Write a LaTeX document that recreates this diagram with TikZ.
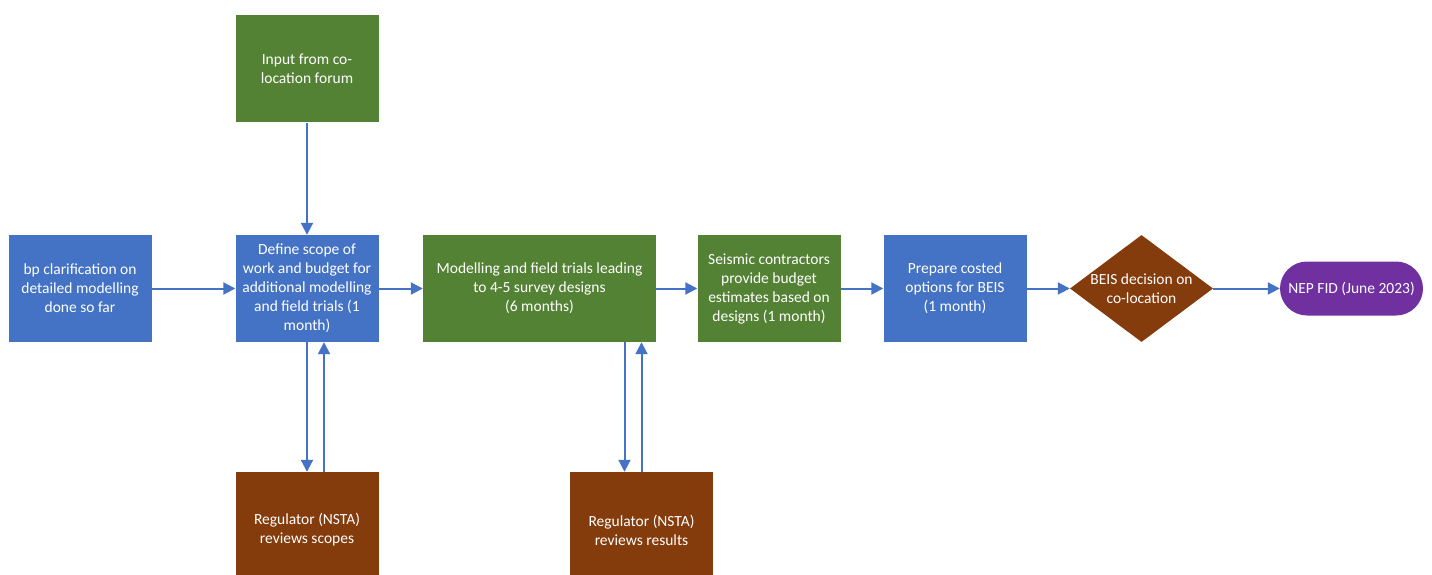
\documentclass[tikz,border=0pt]{standalone}
\usepackage{fontspec}
\setmainfont{Carlito}
\usetikzlibrary{arrows.meta,shapes.geometric}
\definecolor{stepblue}{HTML}{4472C4}
\definecolor{stepgreen}{HTML}{548235}
\definecolor{stepbrown}{HTML}{843C0C}
\definecolor{steppurple}{HTML}{7030A0}
\begin{document}
\begin{tikzpicture} [x=1pt, y=-1pt,
    every node/.style = {text=white, align=center, inner sep=0pt,
        font=\fontsize{15.5}{19}\selectfont},
    box/.style = {rectangle, minimum width=143pt, minimum height=107pt},
    flow/.style = {draw=stepblue, line width=2pt, -{Triangle[length=12pt,width=12pt]}}]

            \useasboundingbox (0,0) rectangle (1432,575);
            \clip (0,0) rectangle (1432,575);

            \node[box, fill=stepblue]  (bp)       at (80,  288.5) {bp clarification on\\detailed modelling\\done so far};
            \node[box, fill=stepblue]  (scope)    at (307, 288.5) {Define scope of\\work and budget for\\additional modelling\\and field trials (1\\month)};
            \node[box, fill=stepgreen] (forum)    at (307, 69)    {Input from co-\\location forum};
            \node[box, fill=stepgreen, minimum width=233pt] (trials) at (539.5, 288.5) {Modelling and field trials leading\\to 4-5 survey designs\\(6 months)};
            \node[box, fill=stepgreen] (contract) at (769, 288.5) {Seismic contractors\\provide budget\\estimates based on\\designs (1 month)};
            \node[box, fill=stepblue]  (options)  at (955, 288.5) {Prepare costed\\options for BEIS\\(1 month)};
            \node[diamond, fill=stepbrown, aspect=1.34, inner sep=-6pt, minimum width=143pt, minimum height=107pt] (decision) at (1141.5, 288.5) {BEIS decision on\\co-location};
            \node[fill=steppurple, rounded corners=27pt, minimum width=143pt, minimum height=54pt] (fid) at (1351.5, 288.5) {NEP FID (June 2023)};
            \node[box, fill=stepbrown, minimum height=116pt] (regscope)  at (307, 530)   {Regulator (NSTA)\\reviews scopes};
            \node[box, fill=stepbrown, minimum height=116pt] (regresult) at (641.5, 530) {Regulator (NSTA)\\reviews results};

            \draw[flow] (bp) -- (scope);
            \draw[flow] (scope) -- (trials);
            \draw[flow] (trials) -- (contract);
            \draw[flow] (contract) -- (options);
            \draw[flow] (options) -- (decision);
            \draw[flow] (decision) -- (fid);
            \draw[flow] (forum) -- (scope);
            \draw[flow] (scope.south) -- (regscope.north);
            \draw[flow] ([xshift=17pt]regscope.north) -- ([xshift=17pt]scope.south);
            \draw[flow] ([xshift=-17pt]regresult.north |- trials.south) -- ([xshift=-17pt]regresult.north);
            \draw[flow] (regresult.north) -- (regresult.north |- trials.south);
        \end{tikzpicture}
\end{document}
